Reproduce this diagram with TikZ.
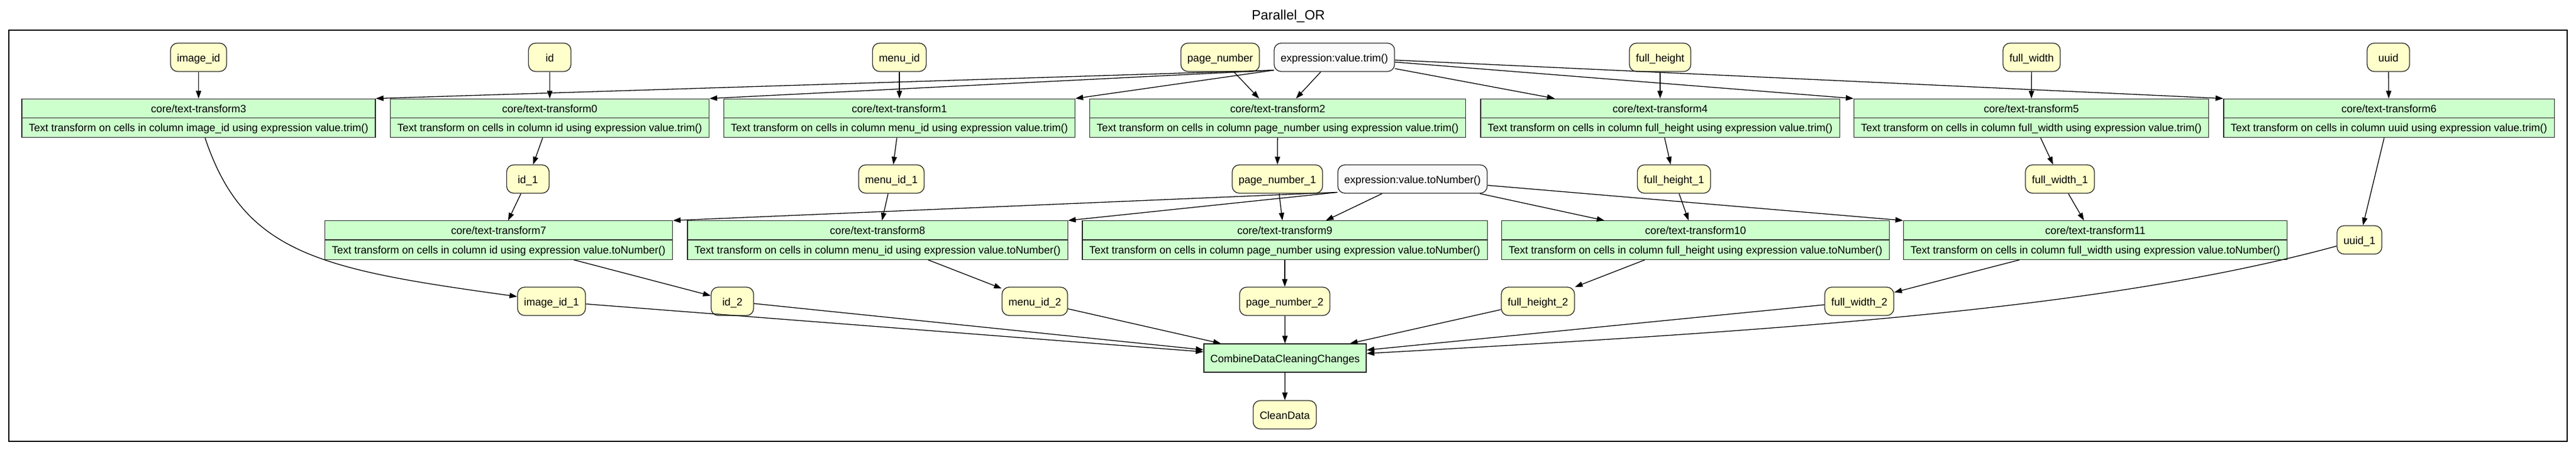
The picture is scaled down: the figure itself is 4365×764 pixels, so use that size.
\documentclass[tikz,border=0pt]{standalone}
\usepackage{fontspec}
\setmainfont{Liberation Sans}
\usetikzlibrary{arrows.meta,shapes.multipart}
\definecolor{colfill}{HTML}{FFFFCC}
\definecolor{stepfill}{HTML}{CCFFCC}
\definecolor{exprfill}{HTML}{FAFAFA}
\newcommand{\rowstrut}{\rule[-3pt]{0pt}{20pt}}

\begin{document}
\begin{tikzpicture}[x=1pt,y=-1pt,
  font=\fontsize{18}{22}\selectfont,
  col/.style={draw=black!85,line width=1.3pt,rounded corners=12pt,fill=colfill,
    minimum width=72pt,minimum height=48pt,inner xsep=11pt,text height=17pt,text depth=3pt},
  expr/.style={col,fill=exprfill},
  xform/.style={draw=black!85,line width=1.3pt,fill=stepfill,rectangle split,
    rectangle split parts=2,inner xsep=12pt,inner ysep=5.5pt},
  comb/.style={draw=black!85,line width=1.3pt,fill=stepfill,minimum height=48pt,
    inner xsep=11pt,text height=17pt,text depth=3pt},
  flow/.style={line width=1.3pt,-{Triangle[length=13pt,width=9pt]}}]
\useasboundingbox (0,0) rectangle (4365,764);
\draw[line width=2.4pt] (15,51) rectangle (4350,747);
\node[anchor=base,font=\fontsize{23}{28}\selectfont] (title) at (2183,33) {Parallel\_OR};

% columns in
\foreach \n/\x/\t in {imgid/336.5/image\_id, id/931.5/id, menuid/1524/menu\_id,
  pagenum/2067.5/page\_number, fullh/2813/full\_height, fullw/3442.5/full\_width, uuid/4047/uuid}
  \node[col] (\n) at (\x,97) {\t};
\node[expr] (trim) at (2261,97) {expression:value.trim()};

% trim steps
\foreach \n/\x/\cname in {3/336.5/image\_id, 0/931.5/id, 1/1524/menu\_id, 2/2165/page\_number,
  4/2813/full\_height, 5/3442/full\_width, 6/4048/uuid}
  \node[xform] (t\n) at (\x,200) {core/text-transform\n\rowstrut\nodepart{two}Text transform on cells in column \cname\ using expression value.trim()\rowstrut};

\foreach \n/\x/\t in {id1/894.5/id\_1, menuid1/1510.5/menu\_id\_1, pagenum1/2164.5/page\_number\_1,
  fullh1/2836.5/full\_height\_1, fullw1/3490.5/full\_width\_1}
  \node[col] (\n) at (\x,303) {\t};
\node[expr] (expnum) at (2393.5,303) {expression:value.toNumber()};
\node[col] (uuid1) at (3998,406) {uuid\_1};

% number steps
\foreach \n/\x/\cname in {7/845/id, 8/1487/menu\_id, 9/2177/page\_number, 10/2873/full\_height, 11/3550.5/full\_width}
  \node[xform] (t\n) at (\x,406.5) {core/text-transform\n\rowstrut\nodepart{two}Text transform on cells in column \cname\ using expression value.toNumber()\rowstrut};

\foreach \n/\x/\t in {img1/934.5/image\_id\_1, id2/1241/id\_2, menuid2/1753.5/menu\_id\_2,
  pagenum2/2177/page\_number\_2, fullh2/2606/full\_height\_2, fullw2/3150.5/full\_width\_2}
  \node[col] (\n) at (\x,510) {\t};
\node[comb] (comb) at (2177.5,606) {CombineDataCleaningChanges};
\node[col] (clean) at (2177,702) {CleanData};

% edges
\foreach \a/\b in {imgid/t3, id/t0, menuid/t1, pagenum/t2, fullh/t4, fullw/t5, uuid/t6,
  trim/t2, trim/t4, t0/id1, t1/menuid1, t2/pagenum1, t4/fullh1, t5/fullw1, t6/uuid1,
  id1/t7, menuid1/t8, pagenum1/t9, fullh1/t10, fullw1/t11, expnum/t9, expnum/t10,
  t7/id2, t8/menuid2, t9/pagenum2, t10/fullh2, t11/fullw2,
  img1/comb, id2/comb, menuid2/comb, pagenum2/comb, fullh2/comb, fullw2/comb, comb/clean}
  \draw[flow] (\a) -- (\b);
\foreach \b in {t3,t0,t1}
  \draw[flow] (trim.192) -- (\b.north east);
\foreach \b in {t5,t6}
  \draw[flow] (trim) -- (\b.north west);
\foreach \b in {t7,t8}
  \draw[flow] (expnum.190) -- (\b.north east);
\draw[flow] (expnum) -- (t11.north west);
\draw[flow] (t3) .. controls (413,431) and (545,456) .. (img1);
\draw[flow] (uuid1) .. controls (3560,525) and (3016,559) .. (comb);
\end{tikzpicture}
\end{document}
